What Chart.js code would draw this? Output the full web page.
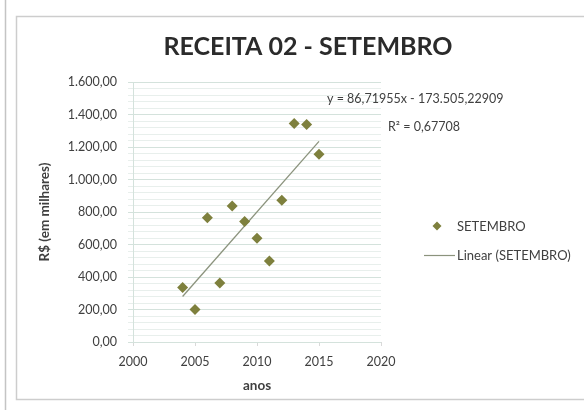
<!DOCTYPE html>
<html><head><meta charset="utf-8">
<script src="https://cdn.jsdelivr.net/npm/chart.js@4/dist/chart.umd.min.js"></script>
<style>html,body{margin:0;padding:0;background:#fff}#wrap{width:584px;height:410px}</style>
</head><body><div id="wrap"><canvas id="c" width="584" height="410"></canvas></div>
<script>
const years = [2004, 2005, 2006, 2007, 2008, 2009, 2010, 2011, 2012, 2013, 2014, 2015];
const setembro = [335, 200, 765, 363, 837, 742, 638, 498, 872, 1345, 1338, 1155];
const trendYears = [2004, 2015];
const trendValues = [280, 1235];
const xTicks = [2000, 2005, 2010, 2015, 2020];
const yTickStep = 200;
const titleText = 'RECEITA 02 - SETEMBRO';
const equationText = 'y = 86,71955x - 173.505,22909';
const r2Text = 'R² = 0,67708';
const seriesName = 'SETEMBRO';
const trendName = 'Linear (SETEMBRO)';

const FONT = "Lato, 'Open Sans', sans-serif";
const markerColor = '#7e803d';
const trendColor = '#8b937d';
const textColor = '#404040';

function fmtBR(v){
  const s = Math.abs(v).toFixed(2).split('.');
  const int = s[0].replace(/\B(?=(\d{3})+(?!\d))/g, '.');
  return int + ',' + s[1];
}

const deco = {
  id: 'deco',
  beforeDraw(chart){
    const ctx = chart.ctx;
    ctx.save();
    ctx.fillStyle = '#ffffff';
    ctx.fillRect(0,0,584,410);
    ctx.strokeStyle = '#c4c4c4';
    ctx.lineWidth = 1.5;
    ctx.beginPath(); ctx.moveTo(5.5,0); ctx.lineTo(5.5,410); ctx.stroke();
    ctx.strokeStyle = '#cdcdcd';
    ctx.lineWidth = 1.5;
    ctx.strokeRect(16.5, 16.5, 600, 383);
    ctx.restore();
  },
  afterDraw(chart){
    const ctx = chart.ctx;
    ctx.save();
    ctx.fillStyle = '#2b2b2b';
    ctx.font = "bold 25px " + FONT;
    ctx.textAlign = 'center'; ctx.textBaseline = 'middle';
    ctx.fillText(titleText, 308, 47);
    ctx.fillStyle = textColor;
    ctx.font = "12.5px " + FONT;
    ctx.textAlign = 'left';
    ctx.fillText(equationText, 327, 99);
    ctx.fillText(r2Text, 388, 127);
    // legend
    const mx = 437, my = 226, s = 4.5;
    ctx.fillStyle = markerColor;
    ctx.beginPath(); ctx.moveTo(mx, my - s); ctx.lineTo(mx + s, my); ctx.lineTo(mx, my + s); ctx.lineTo(mx - s, my); ctx.closePath(); ctx.fill();
    ctx.fillStyle = textColor;
    ctx.font = "13px " + FONT;
    ctx.fillText(seriesName, 457, 227);
    ctx.strokeStyle = trendColor; ctx.lineWidth = 1.2;
    ctx.beginPath(); ctx.moveTo(424, 255.5); ctx.lineTo(455, 255.5); ctx.stroke();
    ctx.fillText(trendName, 457, 256);
    ctx.restore();
  }
};

new Chart(document.getElementById('c'), {
  type: 'scatter',
  data: {
    datasets: [
      {
        label: seriesName,
        data: years.map((y, i) => ({x: y, y: setembro[i]})),
        pointStyle: 'rectRot',
        pointRadius: 5.5,
        backgroundColor: markerColor,
        borderColor: markerColor,
        borderWidth: 0,
        order: 1
      },
      {
        label: trendName,
        type: 'line',
        data: trendYears.map((y, i) => ({x: y, y: trendValues[i]})),
        borderColor: trendColor,
        borderWidth: 1.3,
        pointRadius: 0,
        fill: false,
        order: 2
      }
    ]
  },
  options: {
    responsive: false,
    animation: false,
    events: [],
    layout: { padding: { left: 33, right: 203, top: 82, bottom: 16 } },
    plugins: { legend: { display: false }, title: { display: false }, tooltip: { enabled: false } },
    scales: {
      x: {
        type: 'linear', min: 2000, max: 2020,
        afterBuildTicks(scale){ scale.ticks = xTicks.map(v => ({value: v})); },
        afterFit(scale){ scale.height = 52; },
        grid: { drawOnChartArea: false, color: '#d9d9d9', tickLength: 4 },
        border: { display: false },
        ticks: { color: textColor, font: { family: FONT, size: 12.5 }, padding: 8, maxRotation: 0, callback: v => String(v) },
        title: { display: true, text: 'anos', color: textColor, font: { family: FONT, size: 13.5, weight: 'bold' }, padding: { top: 0, bottom: 0 } }
      },
      y: {
        min: 0, max: 1600,
        afterFit(scale){ scale.width = 100; },
        ticks: {
          stepSize: 40,
          autoSkip: false,
          color: textColor,
          font: { family: FONT, size: 12.5 },
          padding: 11,
          callback: v => (Math.round(v) % yTickStep === 0 ? fmtBR(v) : '')
        },
        grid: {
          color: ctx => (Math.round(ctx.tick.value) % yTickStep === 0 ? '#d4e2dc' : '#e8efec'),
          tickLength: 5,
          drawTicks: true
        },
        border: { display: true, color: '#d4e2dc' },
        title: { display: true, text: 'R$ (em milhares)', color: textColor, font: { family: FONT, size: 13.5, weight: 'bold' }, padding: { top: 4, bottom: 4 } }
      }
    }
  },
  plugins: [deco]
});
</script>
</body></html>
